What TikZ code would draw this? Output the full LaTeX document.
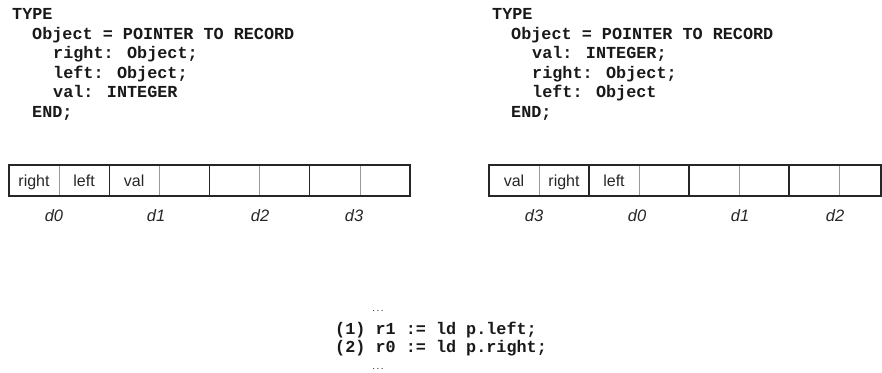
\documentclass[tikz,border=0pt]{standalone}
\usepackage{fontspec}
\newfontfamily\codefam{Liberation Mono}
\newfontfamily\labelfam{Liberation Sans}
\usetikzlibrary{positioning}

\tikzset{
  code/.style={font=\codefam\bfseries\fontsize{16.8}{19.5}\selectfont, anchor=base west, inner sep=0pt, text=black!90},
  dots/.style={font=\codefam\bfseries\fontsize{7}{8}\selectfont, inner sep=0pt, text=black!80},
  cell/.style={font=\labelfam\fontsize{16}{18}\selectfont, anchor=base, inner sep=0pt, text=black!85},
  addr/.style={font=\labelfam\itshape\fontsize{16.5}{18}\selectfont, anchor=base, inner sep=0pt, text=black!85},
  wordsep/.style={line width=1.4pt, draw=black!85},
  halfsep/.style={line width=0.6pt, draw=black!40},
}

\begin{document}
\begin{tikzpicture}[x=1pt, y=-1pt]
    \useasboundingbox (0,0) rectangle (882,372);

    % first declaration
    \foreach \x/\t [count=\i] in {12/TYPE, 32/Object = POINTER TO RECORD,
        53/right: Object;, 53/left: Object;, 53/val: INTEGER, 32/END;}
        \node[code] (declA\i) at (\x, {19.5*\i}) {\t};

    % second declaration
    \foreach \x/\t [count=\i] in {492/TYPE, 511/Object = POINTER TO RECORD,
        532/val: INTEGER;, 532/right: Object;, 532/left: Object, 511/END;}
        \node[code] (declB\i) at (\x, {19.5*\i}) {\t};

    % first memory layout
    \draw[wordsep] (9,165) rectangle (410,196);
    \foreach \k in {1,2,3}
        \draw[wordsep] ({9+100.25*\k},165) -- ++(0,31);
    \foreach \k in {0,...,3}
        \draw[halfsep] ({59.1+100.25*\k},166) -- ++(0,29);
    \foreach \t [count=\i] in {right, left, val}
        \node[cell] (cellA\i) at ({34+50.1*(\i-1)}, 186) {\t};
    \foreach \t/\x [count=\i] in {d0/54, d1/156, d2/260, d3/354}
        \node[addr] (addrA\i) at (\x, 221) {\t};

    % second memory layout
    \draw[wordsep] (489,165) rectangle (881,196);
    \foreach \k in {1,2,3}
        \draw[wordsep] ({489+100*\k},165) -- ++(0,31);
    \foreach \k in {0,...,3}
        \draw[halfsep] ({539+100*\k},166) -- ++(0,29);
    \foreach \t [count=\i] in {val, right, left}
        \node[cell] (cellB\i) at ({514+50*(\i-1)}, 186) {\t};
    \foreach \t/\x [count=\i] in {d3/534, d0/637, d1/740, d2/835}
        \node[addr] (addrB\i) at (\x, 221) {\t};

    % instruction sequence
    \node[dots] (dotsTop) at (378,311) {...};
    \node[code] (instr1) at (335,334) {(1) r1 := ld p.left;};
    \node[code] (instr2) at (335,352) {(2) r0 := ld p.right;};
    \node[dots] (dotsBot) at (378,369) {...};

\end{tikzpicture}
\end{document}
